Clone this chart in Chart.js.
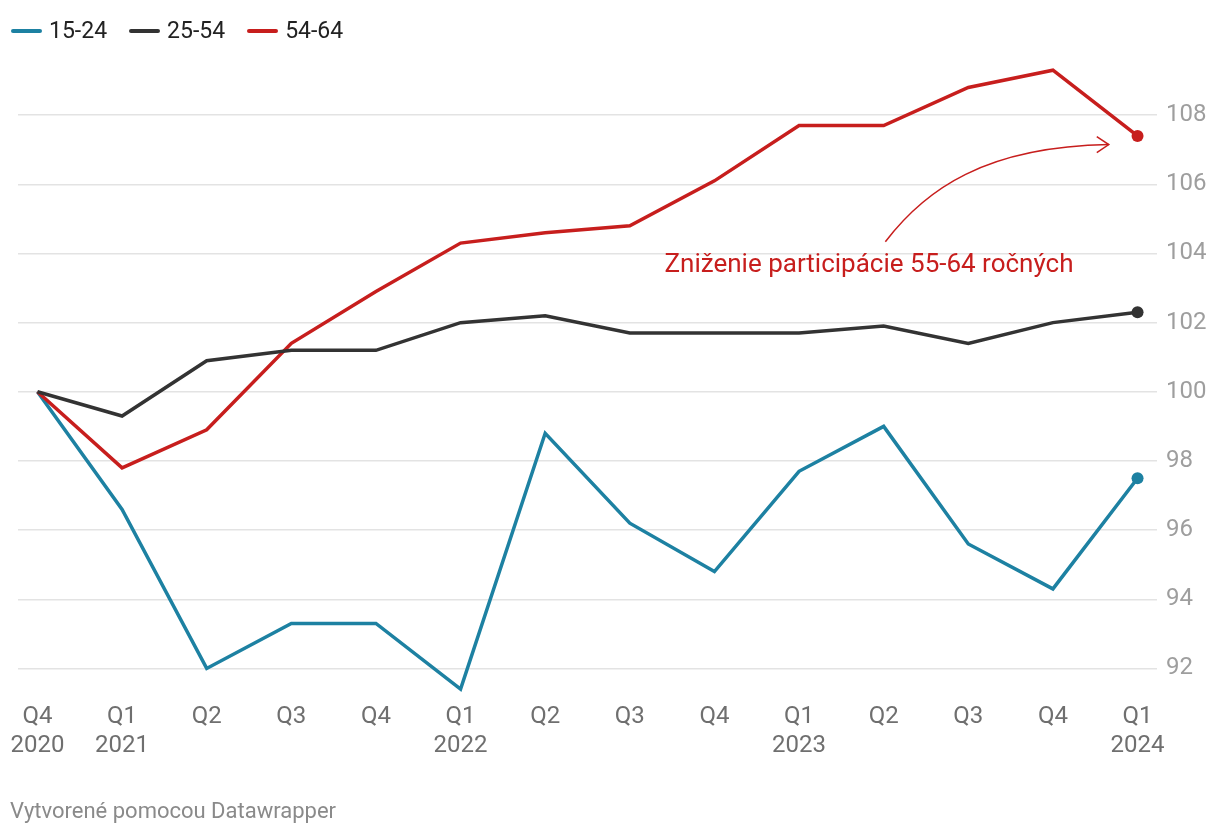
<!DOCTYPE html>
<html>
<head>
<meta charset="utf-8">
<script src="https://cdn.jsdelivr.net/npm/chart.js@4/dist/chart.umd.min.js"></script>
<style>
  html, body { margin: 0; padding: 0; background: #fff; }
  body { width: 1220px; height: 836px; position: relative; overflow: hidden; font-family: Roboto, "Noto Sans", sans-serif; }
  #wrap { position: absolute; left: 0; top: 0; width: 1220px; height: 836px; }
  #legend { position: absolute; left: 11px; top: 17px; display: flex; align-items: center; font-size: 23px; color: #222; }
  .item { display: flex; align-items: center; margin-right: 22px; }
  .swatch { width: 31px; height: 4px; border-radius: 2px; margin-right: 7px; }
  #footer { position: absolute; left: 10px; top: 798px; font-size: 22px; color: #8a8a8a; }
</style>
</head>
<body>
<div id="wrap"><canvas id="c" width="1220" height="836"></canvas></div>
<div id="legend"></div>
<div id="footer">Vytvorené pomocou Datawrapper</div>
<script>
// ---- data ----
const quarters = ["Q4","Q1","Q2","Q3","Q4","Q1","Q2","Q3","Q4","Q1","Q2","Q3","Q4","Q1"];
const years    = ["2020","2021","","","","2022","","","","2023","","","","2024"];
const seriesNames = ["15-24","25-54","54-64"];
const values1524 = [100, 96.6, 92.0, 93.3, 93.3, 91.4, 98.8, 96.2, 94.8, 97.7, 99.0, 95.6, 94.3, 97.5];
const values2554 = [100, 99.3, 100.9, 101.2, 101.2, 102.0, 102.2, 101.7, 101.7, 101.7, 101.9, 101.4, 102.0, 102.3];
const values5464 = [100, 97.8, 98.9, 101.4, 102.9, 104.3, 104.6, 104.8, 106.1, 107.7, 107.7, 108.8, 109.3, 107.4];
const yTicks = [92, 94, 96, 98, 100, 102, 104, 106, 108];
const annotationText = "Zniženie participácie 55-64 ročných";

const colors = ["#1d81a2", "#333333", "#c71e1d"];
const seriesValues = [values1524, values2554, values5464];

// legend
const legend = document.getElementById('legend');
seriesNames.forEach((n, i) => {
  const it = document.createElement('div'); it.className = 'item';
  const sw = document.createElement('div'); sw.className = 'swatch'; sw.style.background = colors[i];
  const tx = document.createElement('span'); tx.textContent = n;
  it.appendChild(sw); it.appendChild(tx); legend.appendChild(it);
});

const lastIdx = quarters.length - 1;
const drawOrder = [3, 1, 2];
const datasets = seriesNames.map((n, i) => ({
  label: n,
  data: seriesValues[i].map((v, k) => ({x: k, y: v})),
  borderColor: colors[i],
  backgroundColor: colors[i],
  borderWidth: 3.5,
  pointRadius: ctx => ctx.dataIndex === lastIdx ? 6 : 0,
  pointHoverRadius: 0,
  pointBorderWidth: 0,
  tension: 0,
  order: drawOrder[i],
  clip: false
}));

// annotation in data coordinates
const annot = {
  text: {x: 7.41, y: 103.64},
  p0: {x: 10.02, y: 104.34},
  c1: {x: 10.49, y: 105.85},
  c2: {x: 11.20, y: 107.09},
  p3: {x: 12.66, y: 107.15}
};

const annotationPlugin = {
  id: 'annot',
  afterDatasetsDraw(chart) {
    const {ctx, scales: {x, y}} = chart;
    const P = p => [x.getPixelForValue(p.x), y.getPixelForValue(p.y)];
    ctx.save();
    ctx.fillStyle = '#c71e1d';
    ctx.font = '26px Roboto';
    ctx.textBaseline = 'middle';
    ctx.textAlign = 'left';
    const t = P(annot.text);
    ctx.fillText(annotationText, t[0], t[1]);
    ctx.strokeStyle = '#c71e1d';
    ctx.lineWidth = 1.5;
    const a = P(annot.p0), b = P(annot.c1), c = P(annot.c2), d = P(annot.p3);
    ctx.beginPath();
    ctx.moveTo(a[0], a[1]);
    ctx.bezierCurveTo(b[0], b[1], c[0], c[1], d[0], d[1]);
    ctx.stroke();
    ctx.beginPath();
    ctx.moveTo(d[0] - 12, d[1] - 8);
    ctx.lineTo(d[0], d[1]);
    ctx.lineTo(d[0] - 12, d[1] + 8);
    ctx.stroke();
    ctx.restore();
  }
};

new Chart(document.getElementById('c'), {
  type: 'line',
  data: { datasets },
  options: {
    responsive: false,
    animation: false,
    events: [],
    layout: { padding: { left: 18, top: 46, right: 0, bottom: 0 } },
    plugins: { legend: { display: false }, tooltip: { enabled: false } },
    scales: {
      x: {
        type: 'linear',
        min: -0.23, max: 13.23,
        afterBuildTicks: s => { s.ticks = quarters.map((q, i) => ({value: i})); },
        afterFit: s => { s.height = 836 - 46 - 657; },
        grid: { display: false, drawTicks: false },
        border: { display: false },
        ticks: {
          padding: 0,
          autoSkip: false,
          maxRotation: 0,
          color: '#6f6f6f',
          font: { family: 'Roboto', size: 24, lineHeight: 1.2 },
          callback: (v) => years[v] ? [quarters[v], years[v]] : quarters[v]
        }
      },
      y: {
        position: 'right',
        min: 91, max: 110,
        afterBuildTicks: s => { s.ticks = yTicks.map(v => ({value: v})); },
        afterFit: s => { s.width = 63; },
        grid: { color: '#e3e3e3', lineWidth: 1.5, drawTicks: false },
        border: { display: false },
        ticks: {
          padding: 9,
          color: '#9e9e9e',
          font: { family: 'Roboto', size: 24 }
        }
      }
    }
  },
  plugins: [annotationPlugin]
});
</script>
</body>
</html>
